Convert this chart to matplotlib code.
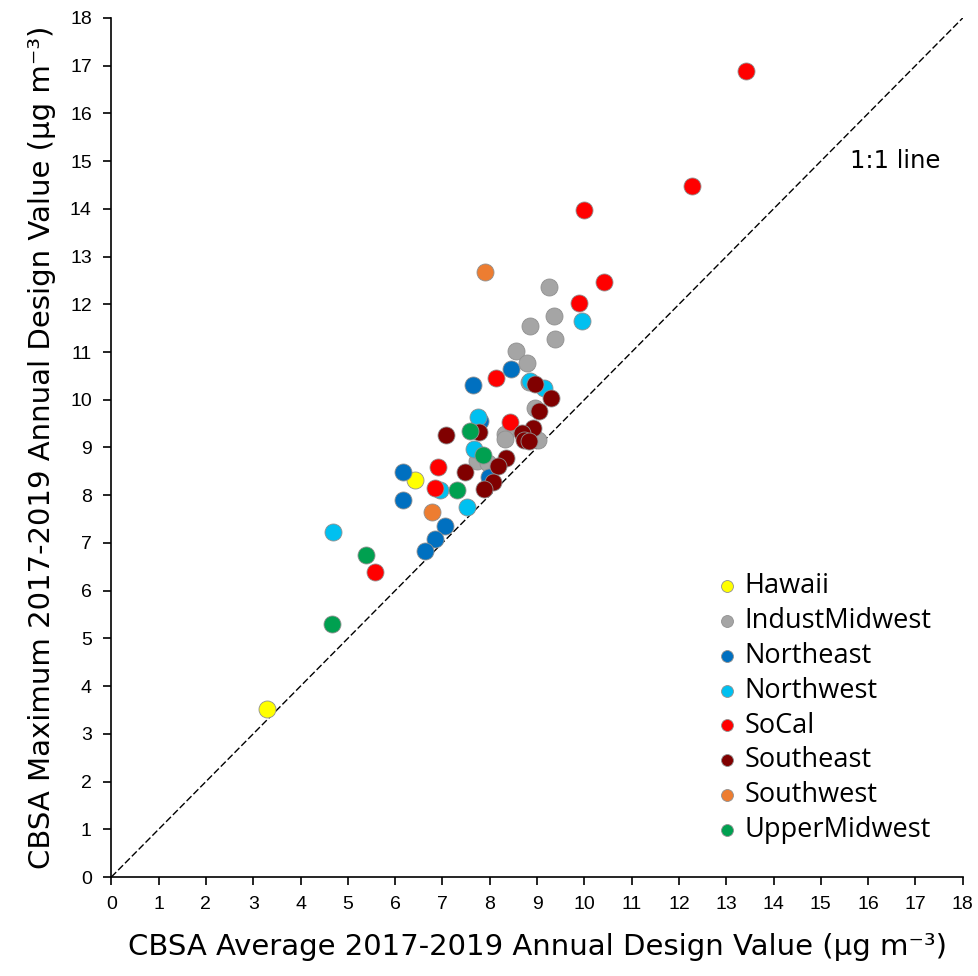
import matplotlib
matplotlib.use("Agg")
import matplotlib.pyplot as plt

regions = ["Hawaii", "IndustMidwest", "Northeast", "Northwest",
           "SoCal", "Southeast", "Southwest", "UpperMidwest"]
colors = ["#FFFF00", "#A5A5A5", "#0070C0", "#00C0F0",
          "#FF0000", "#800000", "#ED7D31", "#00A050"]

hawaii_x = [3.30, 6.41]
hawaii_y = [3.53, 8.32]
indust_x = [9.25, 9.35, 8.85, 9.39, 8.56, 8.78, 8.84, 8.95, 8.32, 8.32, 9.01, 7.73, 7.96]
indust_y = [12.36, 11.75, 11.55, 11.28, 11.03, 10.77, 10.38, 9.83, 9.28, 9.18, 9.15, 8.71, 8.67]
northeast_x = [8.44, 7.65, 7.80, 6.17, 7.99, 6.16, 7.06, 6.85, 6.63]
northeast_y = [10.65, 10.31, 9.55, 8.48, 8.39, 7.90, 7.36, 7.09, 6.84]
northwest_x = [9.95, 8.85, 9.15, 7.76, 7.67, 6.95, 7.52, 4.69]
northwest_y = [11.66, 10.40, 10.24, 9.63, 8.97, 8.10, 7.75, 7.23]
socal_x = [13.42, 12.28, 9.99, 10.42, 9.89, 8.13, 8.42, 6.91, 6.85, 5.57]
socal_y = [16.88, 14.47, 13.98, 12.47, 12.03, 10.46, 9.54, 8.59, 8.16, 6.39]
southeast_x = [8.95, 9.29, 9.04, 7.08, 7.77, 8.92, 8.68, 8.73, 8.82, 8.34, 8.18, 7.48, 8.06, 7.88]
southeast_y = [10.32, 10.04, 9.77, 9.26, 9.32, 9.41, 9.31, 9.16, 9.13, 8.77, 8.62, 8.48, 8.27, 8.14]
southwest_x = [7.89, 6.79]
southwest_y = [12.68, 7.64]
upper_x = [7.59, 7.86, 7.31, 5.38, 4.67]
upper_y = [9.35, 8.85, 8.10, 6.74, 5.31]

xs = [hawaii_x, indust_x, northeast_x, northwest_x, socal_x, southeast_x, southwest_x, upper_x]
ys = [hawaii_y, indust_y, northeast_y, northwest_y, socal_y, southeast_y, southwest_y, upper_y]

fig = plt.figure(figsize=(9.79, 9.76), dpi=100)
ax = fig.add_axes([0.1137, 0.1014, 0.8697, 0.8802])

ax.plot([0, 18], [0, 18], color="black", lw=1, dashes=(5, 2), zorder=1)

for name, c, x, y in zip(regions, colors, xs, ys):
    ax.scatter(x, y, s=150, color=c, edgecolors="#909090", linewidths=0.6,
               label=name, zorder=2)

ax.set_xlim(0, 18)
ax.set_ylim(0, 18)
ax.set_xticks(range(0, 19))
ax.set_yticks(range(0, 19))
for s in ["top", "right"]:
    ax.spines[s].set_visible(False)
for s in ["left", "bottom"]:
    ax.spines[s].set_linewidth(1.2)
ax.tick_params(direction="out", length=6, width=1.2, labelsize=14, pad=8)
for lab in ax.get_xticklabels() + ax.get_yticklabels():
    lab.set_family("Liberation Sans")

ax.set_xlabel("CBSA Average 2017-2019 Annual Design Value (µg m⁻³)",
              fontsize=21, labelpad=14)
ax.set_ylabel("CBSA Maximum 2017-2019 Annual Design Value (µg m⁻³)",
              fontsize=21, labelpad=10)

ax.text(15.62, 15.0, "1:1 line", fontsize=17.5, va="center")

leg = ax.legend(loc="lower left", bbox_to_anchor=(0.694, 0.026), frameon=False,
                markerscale=0.7, handlelength=1.0, handletextpad=0.15,
                labelspacing=0.25, borderaxespad=0,
                prop={"family": "Open Sans", "size": 19.5})

fig.savefig("out.png", dpi=100)
